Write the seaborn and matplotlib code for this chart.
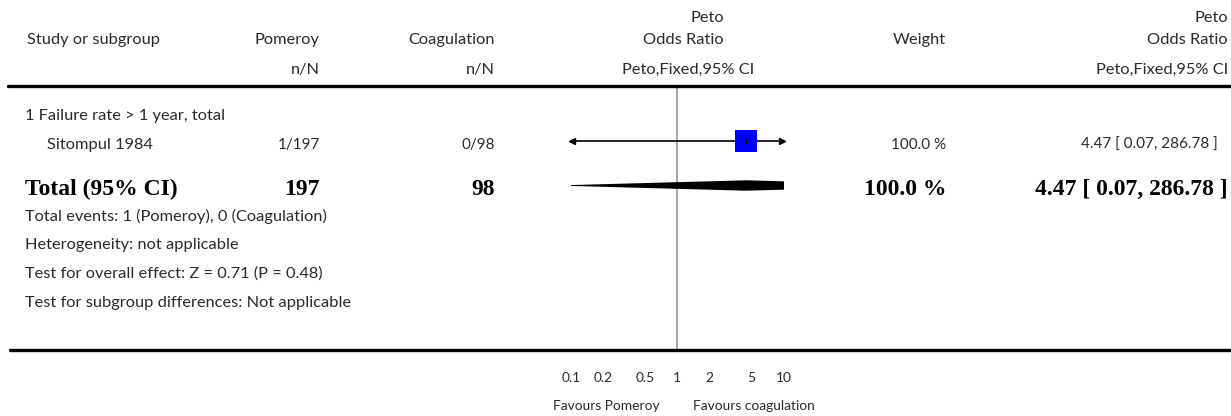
import numpy as np
import pandas as pd
import seaborn as sns
import matplotlib
matplotlib.use("Agg")
import matplotlib.pyplot as plt
from matplotlib.lines import Line2D

# ---------------- data ----------------
subgroup_title = "1 Failure rate > 1 year, total"
studies = ["Sitompul 1984"]
pom_events = [1]
pom_total = [197]
coag_events = [0]
coag_total = [98]
study_or = [4.47]
study_lo = [0.07]
study_hi = [286.78]
study_weight = [100.0]

total_or = 4.47
total_lo = 0.07
total_hi = 286.78
total_weight = 100.0
total_pom = 197
total_coag = 98

footnotes = [
    "Total events: 1 (Pomeroy), 0 (Coagulation)",
    "Heterogeneity: not applicable",
    "Test for overall effect: Z = 0.71 (P = 0.48)",
    "Test for subgroup differences: Not applicable",
]
tick_values = [0.1, 0.2, 0.5, 1, 2, 5, 10]
tick_labels = ["0.1", "0.2", "0.5", "1", "2", "5", "10"]
favours_left = "Favours Pomeroy"
favours_right = "Favours coagulation"

# ---------------- layout ----------------
W, H = 1231, 416
sns.set_theme(style="white")
plt.rcParams["font.family"] = ["Lato", "DejaVu Sans"]
SANS = ["Lato", "DejaVu Sans"]
SERIF = ["Liberation Serif", "DejaVu Serif"]
TXT = "#2a2a2a"
FS = 11.8
FSN = 11.0   # numeric cells
FSB = 17.0
FST = 9.9

fig = plt.figure(figsize=(W / 100, H / 100), dpi=100)
fig.patch.set_facecolor("white")


def T(x, y, s, ha="left", bold=False, size=None, **kw):
    fig.text(x / W, 1 - y / H, s, ha=ha, va="center",
             family=SERIF if bold else SANS,
             fontweight="bold" if bold else "normal",
             fontsize=size if size else (FSB if bold else FS),
             color="black" if bold else TXT, **kw)


# column anchors (pixels)
X_STUDY = 25
X_POM = 320
X_COAG = 495
X_W = 946
X_RES = 1228

Y_PETO = 18
Y_HEAD = 40
Y_SUB = 70
Y_HLINE = 86
Y_GROUP = 116
Y_STUDY = 145
Y_TOTAL = 189
Y_FOOT0 = 216
FOOT_STEP = 29
Y_AXIS = 350

# headers
T(X_STUDY + 2, Y_HEAD, "Study or subgroup")
T(X_POM, Y_HEAD, "Pomeroy", ha="right")
T(X_COAG, Y_HEAD, "Coagulation", ha="right")
T(724, Y_PETO, "Peto", ha="right")
T(724, Y_HEAD, "Odds Ratio", ha="right")
T(X_W, Y_HEAD, "Weight", ha="right")
T(X_RES, Y_PETO, "Peto", ha="right")
T(X_RES, Y_HEAD, "Odds Ratio", ha="right")
T(X_POM, Y_SUB, "n/N", ha="right")
T(X_COAG, Y_SUB, "n/N", ha="right")
T(688, Y_SUB, "Peto,Fixed,95% CI", ha="center")
T(X_RES, Y_SUB, "Peto,Fixed,95% CI", ha="right")

# header and bottom rules
fig.add_artist(Line2D([8 / W, 1], [1 - Y_HLINE / H] * 2, color="black", lw=2.4))
fig.add_artist(Line2D([10 / W, 1], [1 - Y_AXIS / H] * 2, color="black", lw=2.4))

# rows
T(X_STUDY, Y_GROUP, subgroup_title)
for i, name in enumerate(studies):
    y = Y_STUDY + i * 30
    T(X_STUDY + 22, y, name)
    T(X_POM, y, f"{pom_events[i]}/{pom_total[i]}", ha="right", size=FSN)
    T(X_COAG, y, f"{coag_events[i]}/{coag_total[i]}", ha="right", size=FSN)
    T(X_W, y, f"{study_weight[i]:.1f} %", ha="right", size=FSN)
    T(X_RES - 10, y, f"{study_or[i]:.2f} [ {study_lo[i]:.2f}, {study_hi[i]:.2f} ]",
      ha="right", size=FSN)

T(X_STUDY, Y_TOTAL, "Total (95% CI)", bold=True)
T(X_POM, Y_TOTAL, f"{total_pom}", ha="right", bold=True)
T(X_COAG, Y_TOTAL, f"{total_coag}", ha="right", bold=True)
T(X_W, Y_TOTAL, f"{total_weight:.1f} %", ha="right", bold=True)
T(X_RES, Y_TOTAL, f"{total_or:.2f} [ {total_lo:.2f}, {total_hi:.2f} ]", ha="right", bold=True)

for k, line in enumerate(footnotes):
    T(X_STUDY, Y_FOOT0 + k * FOOT_STEP, line)

# ---------------- forest axes ----------------
X0_PX, X1_PX = 570.7, 783.7
ax = fig.add_axes([X0_PX / W, 1 - Y_AXIS / H, (X1_PX - X0_PX) / W, (Y_AXIS - Y_HLINE) / H])
ax.set_xscale("log")
ax.set_xlim(tick_values[0], tick_values[-1])
ax.set_ylim(Y_AXIS, Y_HLINE)  # rows measured downward
ax.patch.set_alpha(0)
for sp in ax.spines.values():
    sp.set_visible(False)
ax.axvline(1, color="#a8a8a8", lw=1.5, zorder=1)

xmin, xmax = ax.get_xlim()
df = pd.DataFrame({"or": study_or, "lo": study_lo, "hi": study_hi,
                   "row": [Y_STUDY - 4 + i * 30 for i in range(len(studies))]})
for _, r in df.iterrows():
    ax.plot([r["lo"], r["hi"]], [r["row"]] * 2, color="black", lw=1.2, zorder=2)
    if r["lo"] < xmin:
        ax.plot([xmin * 1.035], [r["row"]], marker="<", ms=4.5, color="black", clip_on=False, zorder=3)
    if r["hi"] > xmax:
        ax.plot([xmax / 1.035], [r["row"]], marker=">", ms=4.5, color="black", clip_on=False, zorder=3)
sns.scatterplot(data=df, x="or", y="row", marker="s", s=250, color="#0000ff",
                edgecolor="none", ax=ax, zorder=4, legend=False)
ax.plot(df["or"], df["row"], marker="|", ms=5, mew=1, color="black", ls="none", zorder=5)

# total diamond
yd = Y_TOTAL - 3.5
hd = 5.2
ax.fill([total_lo, total_or, total_hi, total_or], [yd, yd - hd, yd, yd + hd],
        color="black", lw=0, zorder=3)

ax.set_yticks([])
ax.set_xticks(tick_values)
ax.set_xticklabels(tick_labels)
ax.minorticks_off()
ax.tick_params(axis="x", direction="in", length=5, width=2, color="black",
               pad=16, labelsize=FST, labelcolor=TXT)
for lab in ax.get_xticklabels():
    lab.set_family(SANS)
ax.set_xlabel("")
ax.set_ylabel("")

T(660, 406, favours_left, ha="right", size=FST)
T(693, 406, favours_right, ha="left", size=FST)

fig.savefig("out.png", dpi=100, facecolor="white")
